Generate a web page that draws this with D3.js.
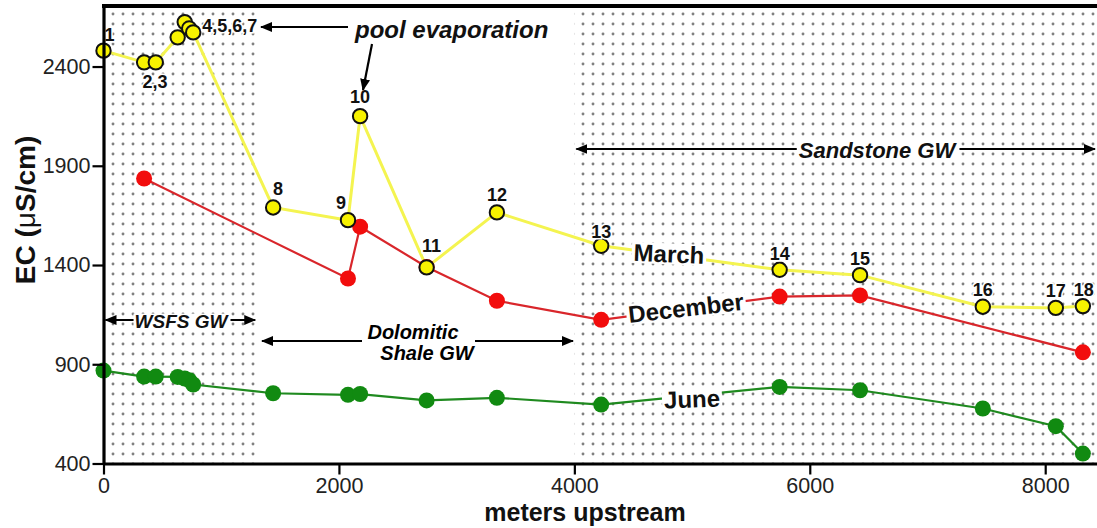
<!DOCTYPE html>
<html>
<head>
<meta charset="utf-8">
<script src="https://cdn.jsdelivr.net/npm/d3@7"></script>
<style>
  html, body { margin: 0; padding: 0; background: #fff; }
  svg { display: block; font-family: "Liberation Sans", Arial, sans-serif; }
</style>
</head>
<body>
<svg id="chart" width="1097" height="528"></svg>
<script>
// Sampling sites along the stream (distance in meters upstream)
const siteIds = ["1","2","3","4","5","6","7","8","9","10","11","12","13","14","15","16","17","18"];
const siteDistance = [0, 345, 444, 630, 690, 728, 762, 1441, 2077, 2180, 2745, 3342, 4228, 5744, 6427, 7470, 8090, 8320];

// Electrical conductivity (μS/cm) per campaign
const marchEC = [2480, 2421, 2421, 2547, 2624, 2592, 2572, 1690, 1626, 2150, 1388, 1665, 1497, 1376, 1349, 1190, 1184, 1193];
const decemberSites = [2, 9, 10, 11, 12, 13, 14, 15, 18];
const decemberEC = [1836, 1332, 1593, 1390, 1220, 1124, 1241, 1247, 960];
const juneEC = [868, 838, 838, 836, 828, 820, 798, 754, 746, 750, 718, 731, 697, 786, 769, 677, 588, 450];

// Axis ticks
const xTicks = [0, 2000, 4000, 6000, 8000];
const yTicks = [400, 900, 1400, 1900, 2400];

// Groundwater zones (start, end in meters); stippled zones fed by WSFS and sandstone GW
const stippledZones = [[0, 1306], [4000, 8440]];

const plot = { left: 103.5, right: 1097, top: 6, bottom: 463.5 };

const x = d3.scaleLinear().domain([0, 8440]).range([plot.left, plot.right]);
const y = d3.scaleLinear().domain([400, 2705]).range([plot.bottom, plot.top]);

const svg = d3.select("#chart");
const defs = svg.append("defs");

// Stipple pattern
const pat = defs.append("pattern")
  .attr("id", "stipple").attr("patternUnits", "userSpaceOnUse")
  .attr("width", 10).attr("height", 10);
pat.append("circle").attr("cx", 3).attr("cy", 4).attr("r", 1.45).attr("fill", "#808080");

// Arrowhead
defs.append("marker")
  .attr("id", "arrow").attr("viewBox", "0 0 12 10")
  .attr("refX", 11).attr("refY", 5)
  .attr("markerWidth", 12).attr("markerHeight", 10)
  .attr("markerUnits", "userSpaceOnUse")
  .attr("orient", "auto-start-reverse")
  .append("path").attr("d", "M0,0 L12,5 L0,10 Z").attr("fill", "#000");

// Stippled zones
svg.append("g").selectAll("rect").data(stippledZones).join("rect")
  .attr("x", d => x(d[0]))
  .attr("y", plot.top)
  .attr("width", d => x(d[1]) - x(d[0]))
  .attr("height", plot.bottom - plot.top)
  .attr("fill", "url(#stipple)");

// Zone annotations (double arrows)
function doubleArrow(x1, x2, yy) {
  svg.append("line")
    .attr("x1", x1).attr("x2", x2).attr("y1", yy).attr("y2", yy)
    .attr("stroke", "#000").attr("stroke-width", 2.2)
    .attr("marker-start", "url(#arrow)").attr("marker-end", "url(#arrow)");
}
function boxedText(txt, cx, cy, size, weight, style, rot, padX, padY) {
  const g = svg.append("g").attr("transform", `translate(${cx},${cy}) rotate(${rot || 0})`);
  const t = g.append("text")
    .attr("text-anchor", "middle").attr("dy", "0.35em")
    .attr("font-size", size).attr("font-weight", weight).attr("font-style", style)
    .attr("fill", "#111").text(txt);
  const bb = t.node().getBBox();
  g.insert("rect", "text")
    .attr("x", bb.x - padX).attr("y", bb.y - padY)
    .attr("width", bb.width + 2 * padX).attr("height", bb.height + 2 * padY)
    .attr("fill", "#fff");
  return g;
}

doubleArrow(x(4000) + 2, plot.right - 2, 149);
boxedText("Sandstone GW", 877, 150, 22, "bold", "italic", 0, 2, -2);

doubleArrow(plot.left + 2, x(1306) - 2, 320);
boxedText("WSFS GW", 181, 321, 19, "bold", "italic", 0, 1, -3);

doubleArrow(262, 573, 341);
svg.append("rect").attr("x", 362).attr("y", 322).attr("width", 113).attr("height", 42).attr("fill", "#fff");
svg.append("text").attr("x", 413).attr("y", 339).attr("text-anchor", "middle")
  .attr("font-size", 20).attr("font-weight", "bold").attr("font-style", "italic").text("Dolomitic");
svg.append("text").attr("x", 427).attr("y", 360).attr("text-anchor", "middle")
  .attr("font-size", 20).attr("font-weight", "bold").attr("font-style", "italic").text("Shale GW");

// Series
const march = siteDistance.map((d, i) => ({ d, v: marchEC[i] }));
const december = decemberSites.map((s, i) => ({ d: siteDistance[s - 1], v: decemberEC[i] }));
const june = siteDistance.map((d, i) => ({ d, v: juneEC[i] }));

const line = d3.line().x(p => x(p.d)).y(p => y(p.v));

svg.append("path").datum(june).attr("d", line)
  .attr("fill", "none").attr("stroke", "#1f8a1f").attr("stroke-width", 2.2);
svg.append("path").datum(december).attr("d", line)
  .attr("fill", "none").attr("stroke", "#d9262b").attr("stroke-width", 2.2);
svg.append("path").datum(march).attr("d", line)
  .attr("fill", "none").attr("stroke", "#f4f450").attr("stroke-width", 3);

svg.append("g").selectAll("circle").data(june).join("circle")
  .attr("cx", p => x(p.d)).attr("cy", p => y(p.v)).attr("r", 8).attr("fill", "#118a11");
svg.append("g").selectAll("circle").data(december).join("circle")
  .attr("cx", p => x(p.d)).attr("cy", p => y(p.v)).attr("r", 8).attr("fill", "#f20d0d");
svg.append("g").selectAll("circle").data(march).join("circle")
  .attr("cx", p => x(p.d)).attr("cy", p => y(p.v)).attr("r", 7.2)
  .attr("fill", "#f7f200").attr("stroke", "#111").attr("stroke-width", 2);

// Series names
boxedText("March", 669, 254, 24, "bold", "normal", 2.5, 2, -3);
boxedText("December", 686, 308, 24, "bold", "normal", -6.5, 2, -3);
boxedText("June", 692, 399, 24, "bold", "normal", -2, 2, -3);

// Site numbers above the March markers
const siteLabels = [
  { text: "1", site: 1, dx: 6, dy: -10 },
  { text: "2,3", site: 2, dx: 11, dy: 26 },
  { text: "4,5,6,7", site: 5, dx: 45, dy: 10 },
  { text: "8", site: 8, dx: 5, dy: -12 },
  { text: "9", site: 9, dx: -7, dy: -11 },
  { text: "10", site: 10, dx: 0, dy: -13 },
  { text: "11", site: 11, dx: 5, dy: -15 },
  { text: "12", site: 12, dx: 0, dy: -11 },
  { text: "13", site: 13, dx: 0, dy: -8 },
  { text: "14", site: 14, dx: 0, dy: -10 },
  { text: "15", site: 15, dx: 0, dy: -10 },
  { text: "16", site: 16, dx: 0, dy: -11 },
  { text: "17", site: 17, dx: 0, dy: -11 },
  { text: "18", site: 18, dx: 1, dy: -10 }
];
svg.append("g").selectAll("text").data(siteLabels).join("text")
  .attr("x", l => x(siteDistance[l.site - 1]) + l.dx)
  .attr("y", l => y(marchEC[l.site - 1]) + l.dy)
  .attr("text-anchor", "middle")
  .attr("font-size", 18).attr("font-weight", "bold").attr("fill", "#111")
  .attr("stroke", "#fff").attr("stroke-width", 3).attr("paint-order", "stroke")
  .text(l => l.text);

// Pool evaporation note
svg.append("text").attr("x", 355).attr("y", 38)
  .attr("font-size", 24).attr("font-weight", "bold").attr("font-style", "italic")
  .attr("fill", "#111").text("pool evaporation");
svg.append("line").attr("x1", 348).attr("y1", 27).attr("x2", 261).attr("y2", 27)
  .attr("stroke", "#000").attr("stroke-width", 2.2).attr("marker-end", "url(#arrow)");
svg.append("line").attr("x1", 372).attr("y1", 44).attr("x2", 363).attr("y2", 90)
  .attr("stroke", "#000").attr("stroke-width", 2.2).attr("marker-end", "url(#arrow)");

// Axes
const fmt = d3.format("d");
const yAxis = svg.append("g").attr("transform", `translate(${plot.left},0)`)
  .call(d3.axisLeft(y).tickValues(yTicks).tickFormat(fmt).tickSize(11).tickSizeOuter(0).tickPadding(2));
const xAxis = svg.append("g").attr("transform", `translate(0,${plot.bottom})`)
  .call(d3.axisBottom(x).tickValues(xTicks).tickFormat(fmt).tickSize(11).tickSizeOuter(0).tickPadding(3));
[yAxis, xAxis].forEach(a => {
  a.attr("font-size", 21.5).attr("font-family", "\"Liberation Sans\", Arial, sans-serif");
  a.select(".domain").attr("stroke", "#000").attr("stroke-width", 3.2);
  a.selectAll(".tick line").attr("stroke", "#000").attr("stroke-width", 2.2);
  a.selectAll(".tick text").attr("fill", "#222");
});

// Top frame
svg.append("line").attr("x1", plot.left - 1.5).attr("x2", plot.right).attr("y1", plot.top).attr("y2", plot.top)
  .attr("stroke", "#000").attr("stroke-width", 4);

// Axis titles
const yTitle = svg.append("text").attr("transform", "translate(35,210) rotate(-90)")
  .attr("text-anchor", "middle").attr("font-size", 28).attr("font-weight", "bold").attr("fill", "#111");
yTitle.append("tspan").text("EC (");
yTitle.append("tspan").attr("font-weight", "normal").text("μ");
yTitle.append("tspan").text("S/cm)");
svg.append("text").attr("x", 585).attr("y", 521)
  .attr("text-anchor", "middle").attr("font-size", 25).attr("font-weight", "bold").attr("fill", "#111")
  .text("meters upstream");
</script>
</body>
</html>
